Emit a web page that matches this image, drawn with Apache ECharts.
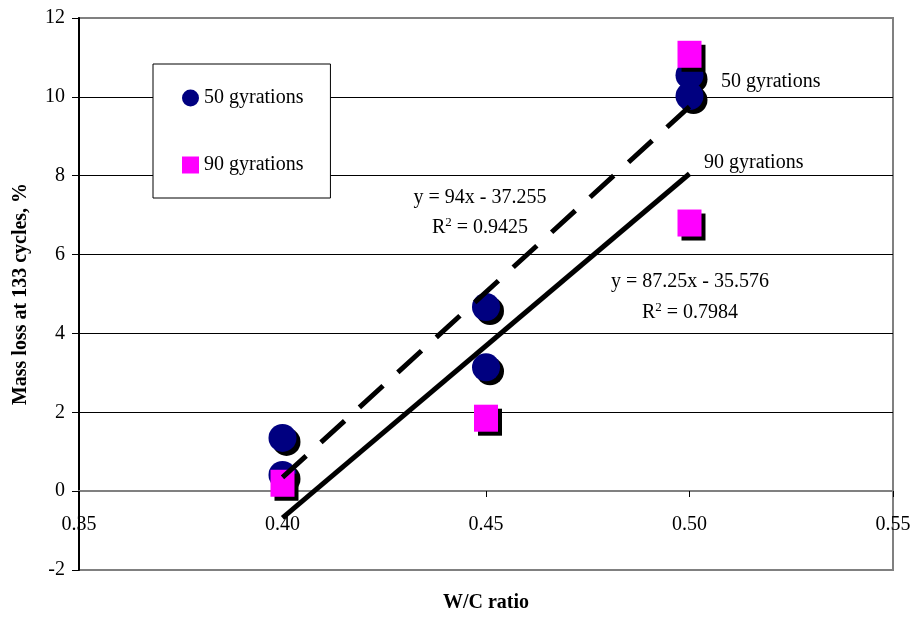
<!DOCTYPE html>
<html>
<head>
<meta charset="utf-8">
<script src="https://cdn.jsdelivr.net/npm/echarts@6/dist/echarts.min.js"></script>
<style>
  html, body { margin: 0; padding: 0; background: #fff; }
  #chart { width: 913px; height: 619px; }
</style>
</head>
<body>
<div id="chart"></div>
<script>
// data
var wcRatio50 = [0.40, 0.40, 0.45, 0.45, 0.50, 0.50];
var massLoss50 = [1.35, 0.41, 4.67, 3.14, 10.55, 10.02];
var wcRatio90 = [0.40, 0.45, 0.50, 0.50];
var massLoss90 = [0.20, 1.85, 11.08, 6.80];
var trendX = [0.40, 0.50];
var trend50 = [0.35, 9.75];   // y = 94x - 37.255
var trend90 = [-0.68, 8.05];  // y = 87.25x - 35.576
var seriesNames = ["50 gyrations", "90 gyrations"];

var FONT = "Liberation Serif";

function pairs(xs, ys) {
  var out = [];
  for (var i = 0; i < xs.length; i++) out.push([xs[i], ys[i]]);
  return out;
}

function rsq(val) {
  return "{r|R}{s|2}{r| = " + val + "}";
}
var rich = {
  r: { fontSize: 20, fontFamily: FONT, lineHeight: 24, fill: "#000" },
  s: { fontSize: 13, fontFamily: FONT, verticalAlign: "top", lineHeight: 24, fill: "#000" }
};

function txt(x, y, text, align) {
  return {
    type: "text", x: x, y: y, z: 100,
    style: {
      text: text, fontSize: 20, fontFamily: FONT, fill: "#000",
      textAlign: align || "center", textVerticalAlign: "middle", rich: rich
    }
  };
}

var shadow = { opacity: 1, shadowColor: "#000", shadowBlur: 0, shadowOffsetX: 4, shadowOffsetY: 4 };

// x axis sits on y = 0, i.e. 2 of 14 units above the bottom of the 552px grid
var gridH = 552;
var xAxisLift = -Math.round(gridH * 2 / 14);

var option = {
  backgroundColor: "#ffffff",
  animation: false,
  grid: {
    left: 79, right: 20, top: 18, bottom: 49,
    outerBoundsMode: "none",
    containLabel: false,
    show: true, borderColor: "#808080", borderWidth: 2
  },
  legend: {
    data: seriesNames,
    orient: "vertical",
    left: 153, top: 64,
    padding: [24, 27, 23, 29],
    itemGap: 47,
    itemWidth: 17, itemHeight: 17,
    borderColor: "#000", borderWidth: 1,
    backgroundColor: "#fff",
    itemStyle: { shadowOffsetX: 0, shadowOffsetY: 0, shadowColor: "transparent" },
    textStyle: { fontFamily: FONT, fontSize: 20, color: "#000" }
  },
  xAxis: {
    type: "value",
    min: 0.35, max: 0.55, interval: 0.05,
    offset: xAxisLift,
    name: "W/C ratio",
    nameLocation: "middle",
    nameGap: 102,
    nameTextStyle: { fontFamily: FONT, fontSize: 20, fontWeight: "bold", color: "#000" },
    axisLine: { onZero: false, lineStyle: { color: "#808080", width: 2 } },
    axisTick: { show: true, length: 6, lineStyle: { color: "#000" } },
    axisLabel: {
      margin: 24, fontFamily: FONT, fontSize: 20, color: "#000",
      formatter: function (v) { return v.toFixed(2); }
    },
    splitLine: { show: false }
  },
  yAxis: {
    type: "value",
    min: -2, max: 12, interval: 2,
    name: "Mass loss at 133 cycles, %",
    nameLocation: "middle",
    nameGap: 48,
    nameTextStyle: { fontFamily: FONT, fontSize: 20, fontWeight: "bold", color: "#000" },
    axisLine: { show: true, onZero: false, lineStyle: { color: "#000", width: 2 } },
    axisTick: { show: true, length: 7, lineStyle: { color: "#000" } },
    axisLabel: { margin: 14, fontFamily: FONT, fontSize: 20, color: "#000" },
    splitLine: { show: true, showMinLine: false, showMaxLine: false, lineStyle: { color: "#000", width: 1 } }
  },
  series: [
    {
      name: seriesNames[0],
      type: "scatter",
      symbol: "circle",
      symbolSize: 28,
      itemStyle: Object.assign({ color: "#000080" }, shadow),
      data: pairs(wcRatio50, massLoss50),
      z: 2
    },
    {
      name: seriesNames[1],
      type: "scatter",
      symbol: "rect",
      symbolSize: [24, 27],
      itemStyle: Object.assign({ color: "#ff00ff" }, shadow),
      data: pairs(wcRatio90, massLoss90),
      z: 3
    },
    {
      name: "trend50",
      type: "line",
      showSymbol: false,
      symbol: "none",
      lineStyle: { color: "#000", width: 5, type: [32, 20], cap: "butt" },
      data: pairs(trendX, trend50),
      z: 4
    },
    {
      name: "trend90",
      type: "line",
      showSymbol: false,
      symbol: "none",
      lineStyle: { color: "#000", width: 5 },
      data: pairs(trendX, trend90),
      z: 4
    }
  ],
  graphic: [
    txt(721, 82, "50 gyrations", "left"),
    txt(704, 163, "90 gyrations", "left"),
    txt(480, 198, "y = 94x - 37.255"),
    txt(480, 228, rsq("0.9425")),
    txt(690, 282, "y = 87.25x - 35.576"),
    txt(690, 313, rsq("0.7984"))
  ]
};

var myChart = echarts.init(document.getElementById("chart"));
myChart.setOption(option);
</script>
</body>
</html>
